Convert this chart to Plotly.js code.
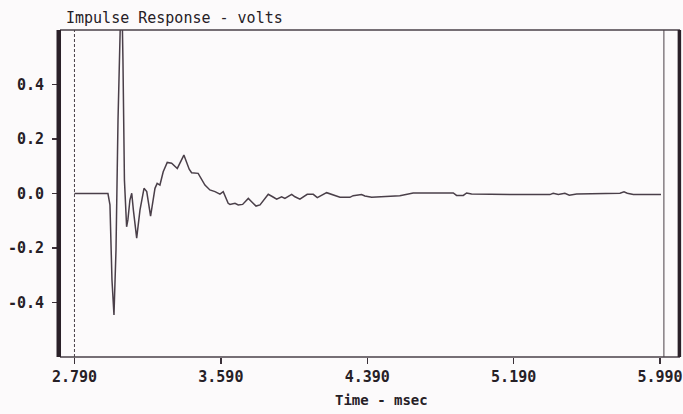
<!DOCTYPE html>
<html>
<head>
<meta charset="utf-8">
<script src="https://cdn.plot.ly/plotly-3.0.1.min.js"></script>
<style>
  html, body { margin: 0; padding: 0; background: #fcfafb; }
  #chart { width: 683px; height: 414px; }
</style>
</head>
<body>
<div id="chart"></div>
<script>
// Time axis (msec) and impulse response (volts)
const timeMs = [
  2.790, 2.973, 2.984, 2.995, 3.006, 3.017, 3.028, 3.039, 3.047, 3.055, 3.063,
  3.075, 3.082, 3.093, 3.103, 3.112, 3.130, 3.148, 3.170, 3.185, 3.206, 3.230,
  3.242, 3.257, 3.275, 3.297, 3.321, 3.352, 3.388, 3.417, 3.430, 3.466, 3.503,
  3.530, 3.558, 3.585, 3.603, 3.630, 3.640, 3.667, 3.685, 3.709, 3.740, 3.758,
  3.782, 3.804, 3.849, 3.873, 3.895, 3.922, 3.940, 3.977, 3.995, 4.022, 4.062,
  4.095, 4.117, 4.168, 4.195, 4.223, 4.241, 4.295, 4.313, 4.359, 4.377, 4.414,
  4.459, 4.568, 4.641, 4.860, 4.878, 4.915, 4.933, 4.960, 5.170, 5.388, 5.406,
  5.434, 5.470, 5.494, 5.534, 5.771, 5.793, 5.811, 5.844, 5.995
];
const volts = [
  0.000, 0.000, -0.042, -0.317, -0.446, -0.207, 0.270, 0.750, 0.800, 0.490, 0.050,
  -0.122, -0.097, -0.024, 0.001, -0.061, -0.164, -0.061, 0.019, 0.007, -0.083, 0.019,
  0.037, 0.031, 0.080, 0.114, 0.111, 0.092, 0.141, 0.089, 0.076, 0.074, 0.031,
  0.013, 0.007, -0.002, 0.007, -0.036, -0.040, -0.036, -0.042, -0.040, -0.018, -0.030,
  -0.046, -0.042, -0.003, -0.012, -0.021, -0.012, -0.018, -0.003, -0.012, -0.021, -0.003,
  -0.003, -0.015, 0.003, -0.003, -0.012, -0.014, -0.014, -0.008, -0.004, -0.009, -0.014,
  -0.012, -0.008, 0.002, 0.002, -0.007, -0.007, 0.002, -0.002, -0.004, -0.004, 0.001,
  -0.004, 0.001, -0.006, -0.002, 0.001, 0.006, 0.001, -0.004, -0.004
];
const xTickVals = [2.79, 3.59, 4.39, 5.19, 5.99];
const xTickText = ['2.790', '3.590', '4.390', '5.190', '5.990'];
const yTickVals = [-0.4, -0.2, 0.0, 0.2, 0.4];
const yTickText = ['-0.4', '-0.2', '0.0', '0.2', '0.4'];
const startCursor = 2.79;
const endCursor = 6.011;

const ink = '#3a3038';
const mono = '"DejaVu Sans Mono", "Liberation Mono", monospace';

const trace = {
  x: timeMs, y: volts, type: 'scatter', mode: 'lines',
  line: { color: '#4a3f49', width: 1.5 },
  hoverinfo: 'skip'
};

const layout = {
  width: 683, height: 414,
  margin: { l: 60, r: 3, t: 30, b: 57 },
  paper_bgcolor: '#fcfafb', plot_bgcolor: '#fcfafb',
  showlegend: false,
  font: { family: mono, color: '#262026' },
  xaxis: {
    range: [2.711, 6.099], showgrid: false, zeroline: false, showline: false,
    tickmode: 'array', tickvals: xTickVals, ticktext: xTickText,
    ticks: 'outside', ticklen: 6, tickwidth: 1.3, tickcolor: ink,
    tickfont: { family: mono, size: 15, color: '#262026', weight: 'bold' }
  },
  yaxis: {
    range: [-0.6, 0.6], showgrid: false, zeroline: false, showline: false,
    tickmode: 'array', tickvals: yTickVals, ticktext: yTickText,
    ticks: 'outside', ticklen: 7, tickwidth: 1.3, tickcolor: ink,
    ticklabelstandoff: 5,
    tickfont: { family: mono, size: 15, color: '#262026', weight: 'bold' }
  },
  shapes: [
    { type: 'line', xref: 'paper', yref: 'paper', x0: 0, x1: 1, y0: 1, y1: 1,
      line: { color: '#4a4048', width: 1.5 } },
    { type: 'line', xref: 'paper', yref: 'paper', x0: 0, x1: 1, y0: 0, y1: 0,
      line: { color: '#4a4048', width: 1.5 } },
    { type: 'line', xref: 'paper', yref: 'paper', x0: -0.002, x1: -0.002, y0: 0, y1: 1,
      line: { color: '#2a2028', width: 4.5 } },
    { type: 'line', xref: 'paper', yref: 'paper', x0: 0.999, x1: 0.999, y0: 0, y1: 1,
      line: { color: '#2a2028', width: 3.5 } },
    { type: 'line', xref: 'x', yref: 'paper', x0: startCursor, x1: startCursor, y0: 0, y1: 1,
      line: { color: '#4a4048', width: 1, dash: '3px,2px' } },
    { type: 'line', xref: 'x', yref: 'paper', x0: endCursor, x1: endCursor, y0: 0, y1: 1,
      line: { color: '#4a4048', width: 1 } }
  ],
  annotations: [
    { text: 'Impulse Response - volts', xref: 'paper', yref: 'paper',
      x: 4 / 620, y: 1, xanchor: 'left', yanchor: 'bottom', yshift: 1,
      showarrow: false, font: { family: mono, size: 15, color: '#262026' } },
    { text: 'Time - msec', xref: 'paper', yref: 'paper',
      x: (381 - 60) / 620, y: 0, xanchor: 'center', yanchor: 'top', yshift: -33,
      showarrow: false, font: { family: mono, size: 14, color: '#262026', weight: 'bold' } }
  ]
};

Plotly.newPlot('chart', [trace], layout, { staticPlot: true, displayModeBar: false });
</script>
</body>
</html>
